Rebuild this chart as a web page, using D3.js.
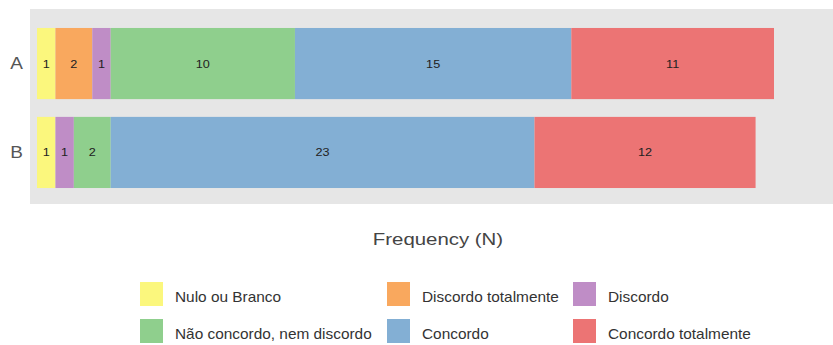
<!DOCTYPE html>
<html><head><meta charset="utf-8">
<script src="https://cdn.jsdelivr.net/npm/d3@7"></script>
<style>body{margin:0;background:#fff}svg{display:block}text{font-family:"Liberation Sans",Arial,sans-serif}</style>
</head><body><svg id="c" width="833" height="345"></svg>
<script>
const groups = ["A","B"];
const categories = ["Nulo ou Branco","Discordo totalmente","Discordo","Não concordo, nem discordo","Concordo","Concordo totalmente"];
const colors = ["#fbf77d","#f9a85e","#bf8dc6","#8fcf8d","#83afd4","#ec7474"];
const valuesA = [1,2,1,10,15,11];
const valuesB = [1,0,1,2,23,12];
const xTitle = "Frequency (N)";

const svg = d3.select("#c");
const panel = {x0:30, x1:833, y0:9, y1:204};
svg.append("rect").attr("x",panel.x0).attr("y",panel.y0).attr("width",panel.x1-panel.x0).attr("height",panel.y1-panel.y0).attr("fill","#e6e6e6");

const x = d3.scaleLinear().domain([0,40]).range([37,774]);
const y = d3.scaleBand().domain(groups).range([10.2,205.8]).paddingInner(0.2).paddingOuter(0.2);

function stretchedText(px, py, sx, str){
  return svg.append("text").attr("transform",`translate(${px},${py}) scale(${sx},1)`).text(str);
}

const data = [valuesA, valuesB];
const stackRows = groups.map((g,i)=>{const o={group:g}; categories.forEach((c,j)=>o[c]=data[i][j]); return o;});
const series = d3.stack().keys(categories)(stackRows);

series.forEach((s,si)=>{
  s.forEach(d=>{
    const v = d[1]-d[0];
    if(v<=0) return;
    svg.append("rect").attr("x",x(d[0])).attr("y",y(d.data.group)).attr("width",x(d[1])-x(d[0])).attr("height",y.bandwidth()).attr("fill",colors[si]);
    stretchedText((x(d[0])+x(d[1]))/2, y(d.data.group)+y.bandwidth()/2, 1.1, v)
      .attr("dy","0.35em").attr("text-anchor","middle").attr("font-size",11.5).attr("fill","#222");
  });
});

groups.forEach(g=>{
  stretchedText(23, y(g)+y.bandwidth()/2, 1.15, g).attr("dy","0.36em").attr("text-anchor","end")
    .attr("font-size",16.5).attr("fill","#555");
});

stretchedText(438, 239, 1.2, xTitle).attr("dy","0.35em").attr("text-anchor","middle").attr("font-size",17).attr("fill","#444");

const colX = [140,387,573];
const rowY = [282,319];
categories.forEach((c,i)=>{
  const cx = colX[i%3], ry = rowY[Math.floor(i/3)];
  svg.append("rect").attr("x",cx).attr("y",ry).attr("width",23).attr("height",24).attr("fill",colors[i]);
  stretchedText(cx+35, ry+15.5, 1.1, c).attr("dy","0.35em").attr("font-size",14).attr("fill","#333");
});
</script></body></html>
